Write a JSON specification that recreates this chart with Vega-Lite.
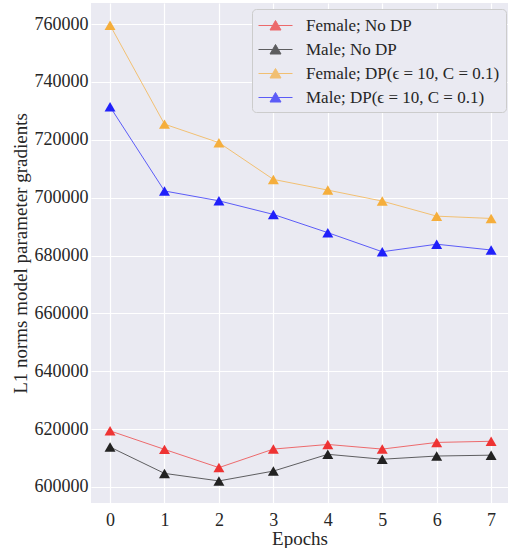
{
  "$schema": "https://vega.github.io/schema/vega-lite/v6.json",
  "width": 417,
  "height": 500,
  "autosize": {"type": "none"},
  "padding": {"left": 91, "top": 3, "right": 0, "bottom": 45},
  "background": "white",
  "config": {
    "view": {"fill": "#EAEAF2", "stroke": null},
    "font": "Liberation Serif",
    "axis": {
      "domain": false,
      "ticks": false,
      "grid": true,
      "gridColor": "white",
      "gridWidth": 1.2,
      "labelFont": "Liberation Serif",
      "labelFontSize": 18,
      "labelColor": "#262626",
      "titleFont": "Liberation Serif",
      "titleFontSize": 19,
      "titleColor": "#262626",
      "titleFontWeight": "normal"
    }
  },
  "data": {
    "values": [
      {"epoch": 0, "value": 619400, "series": "Female; No DP"},
      {"epoch": 1, "value": 613000, "series": "Female; No DP"},
      {"epoch": 2, "value": 606700, "series": "Female; No DP"},
      {"epoch": 3, "value": 613100, "series": "Female; No DP"},
      {"epoch": 4, "value": 614700, "series": "Female; No DP"},
      {"epoch": 5, "value": 613100, "series": "Female; No DP"},
      {"epoch": 6, "value": 615400, "series": "Female; No DP"},
      {"epoch": 7, "value": 615800, "series": "Female; No DP"},
      {"epoch": 0, "value": 613800, "series": "Male; No DP"},
      {"epoch": 1, "value": 604700, "series": "Male; No DP"},
      {"epoch": 2, "value": 602100, "series": "Male; No DP"},
      {"epoch": 3, "value": 605500, "series": "Male; No DP"},
      {"epoch": 4, "value": 611300, "series": "Male; No DP"},
      {"epoch": 5, "value": 609600, "series": "Male; No DP"},
      {"epoch": 6, "value": 610700, "series": "Male; No DP"},
      {"epoch": 7, "value": 611000, "series": "Male; No DP"},
      {"epoch": 0, "value": 759600, "series": "Female; DP(ϵ = 10, C = 0.1)"},
      {"epoch": 1, "value": 725400, "series": "Female; DP(ϵ = 10, C = 0.1)"},
      {"epoch": 2, "value": 719000, "series": "Female; DP(ϵ = 10, C = 0.1)"},
      {"epoch": 3, "value": 706300, "series": "Female; DP(ϵ = 10, C = 0.1)"},
      {"epoch": 4, "value": 702600, "series": "Female; DP(ϵ = 10, C = 0.1)"},
      {"epoch": 5, "value": 698800, "series": "Female; DP(ϵ = 10, C = 0.1)"},
      {"epoch": 6, "value": 693600, "series": "Female; DP(ϵ = 10, C = 0.1)"},
      {"epoch": 7, "value": 692800, "series": "Female; DP(ϵ = 10, C = 0.1)"},
      {"epoch": 0, "value": 731400, "series": "Male; DP(ϵ = 10, C = 0.1)"},
      {"epoch": 1, "value": 702300, "series": "Male; DP(ϵ = 10, C = 0.1)"},
      {"epoch": 2, "value": 698900, "series": "Male; DP(ϵ = 10, C = 0.1)"},
      {"epoch": 3, "value": 694200, "series": "Male; DP(ϵ = 10, C = 0.1)"},
      {"epoch": 4, "value": 687900, "series": "Male; DP(ϵ = 10, C = 0.1)"},
      {"epoch": 5, "value": 681300, "series": "Male; DP(ϵ = 10, C = 0.1)"},
      {"epoch": 6, "value": 683900, "series": "Male; DP(ϵ = 10, C = 0.1)"},
      {"epoch": 7, "value": 681900, "series": "Male; DP(ϵ = 10, C = 0.1)"}
    ]
  },
  "encoding": {
    "x": {
      "field": "epoch",
      "type": "quantitative",
      "scale": {"domain": [-0.35, 7.31], "nice": false, "zero": false},
      "axis": {"values": [0, 1, 2, 3, 4, 5, 6, 7], "title": "Epochs", "labelPadding": 8, "titlePadding": 0, "labelFlush": false}
    },
    "y": {
      "field": "value",
      "type": "quantitative",
      "scale": {"domain": [594470, 767260], "nice": false, "zero": false},
      "axis": {
        "values": [600000, 620000, 640000, 660000, 680000, 700000, 720000, 740000, 760000],
        "format": "d",
        "title": "L1 norms model parameter gradients",
        "labelPadding": 3,
        "titlePadding": 4,
        "labelFlush": false
      }
    },
    "color": {
      "field": "series",
      "type": "nominal",
      "scale": {
        "domain": ["Female; No DP", "Male; No DP", "Female; DP(ϵ = 10, C = 0.1)", "Male; DP(ϵ = 10, C = 0.1)"],
        "range": ["#EE3333", "#222222", "#F5AE3C", "#2020FA"]
      },
      "legend": {
        "orient": "none",
        "legendX": 161,
        "legendY": 6,
        "title": null,
        "labelFont": "Liberation Serif",
        "labelFontSize": 17,
        "labelLimit": 0,
        "labelColor": "#262626",
        "symbolType": "M-1,0L2.4,0M0.7,-0.5L1.25,0.45L0.15,0.45Z",
        "symbolSize": 400,
        "symbolStrokeWidth": 1,
        "labelOffset": 27,
        "rowPadding": 5,
        "padding": 6,
        "fillColor": "#EAEAF2",
        "strokeColor": "#CCCCCC",
        "cornerRadius": 4,
        "encode": {
          "symbols": {
            "update": {
              "fill": {"scale": "color", "field": "value"},
              "stroke": {"scale": "color", "field": "value"},
              "opacity": {"value": 1}
            }
          }
        }
      }
    }
  },
  "layer": [
    {"mark": {"type": "line", "strokeWidth": 1, "opacity": 0.7}},
    {"mark": {"type": "point", "shape": "triangle-up", "filled": true, "size": 120, "opacity": 1}}
  ]
}
